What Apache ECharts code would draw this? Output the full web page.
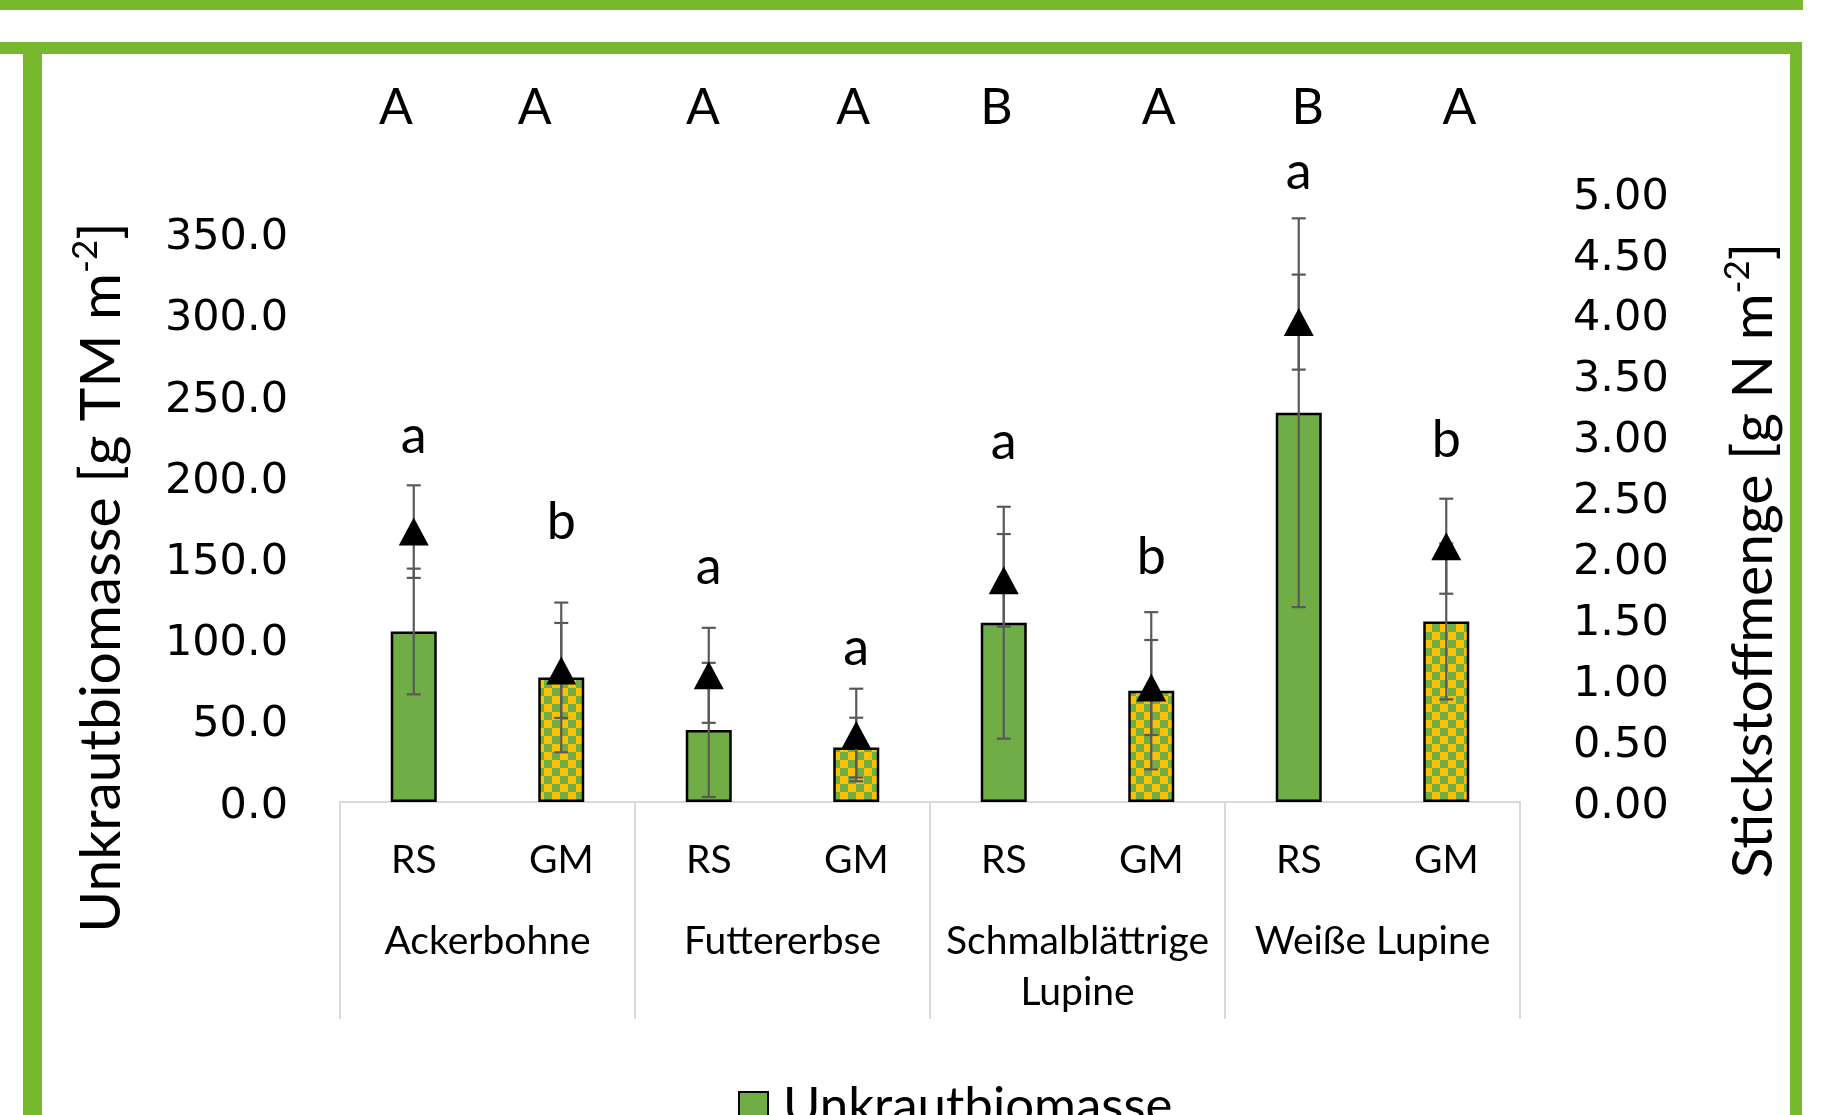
<!DOCTYPE html>
<html><head><meta charset="utf-8">
<script src="https://cdn.jsdelivr.net/npm/echarts@6/dist/echarts.min.js"></script>
<style>html,body{margin:0;padding:0;background:#fff}#c{width:1823px;height:1115px}</style>
</head><body><div id="c"></div>
<script>
// ---- data ----
const subLabels = ['RS','GM','RS','GM','RS','GM','RS','GM'];
const groups = ['Ackerbohne','Futtererbse','Schmalblättrige\nLupine','Weiße Lupine'];
const biomass = [105.0, 76.7, 44.4, 33.5, 110.4, 68.5, 239.7, 111.2];
const biomassErr = [38.7, 46.1, 41.3, 18.4, 71.4, 48.4, 119.7, 48.0];
const nitrogen = [2.22, 1.08, 1.04, 0.55, 1.82, 0.94, 3.94, 2.10];
const nitrogenErr = [0.38, 0.39, 0.39, 0.38, 0.38, 0.39, 0.39, 0.39];
const lowerLetters = ['a','b','a','a','a','b','a','b'];
const lowerLetterAt = [3.00, 2.30, 1.93, 1.26, 2.95, 2.01, 5.17, 2.97];
const upperLetters = ['A','A','A','A','B','A','B','A'];
const upperLetterAt = 5.70;
const upperLetterShift = [-0.12, -0.18, -0.04, -0.02, -0.05, 0.05, 0.06, 0.09];
const leftScale = {min: 0, max: 375, interval: 50};
const rightScale = {min: 0, max: 5, interval: 0.5};

// ---- styles ----
const FONT = 'Lato';
const NUMFONT = 'DejaVu Sans';
const GREEN = '#70ad47', YELLOW = '#ffc000', FRAME = '#77b82e', ERR = '#595959', SEP = '#d9d9d9';
const SQ = 8;
const pc = document.createElement('canvas'); pc.width = 2 * SQ; pc.height = 2 * SQ;
const g = pc.getContext('2d');
g.fillStyle = YELLOW; g.fillRect(0, 0, 2 * SQ, 2 * SQ);
g.fillStyle = GREEN; g.fillRect(SQ, 0, SQ, SQ); g.fillRect(0, SQ, SQ, SQ);
const checker = {image: pc, repeat: 'repeat'};

const chart = echarts.init(document.getElementById('c'), null, {renderer: 'canvas'});

function errSeries(vals, errs, yIdx, z) {
  return {
    type: 'custom', yAxisIndex: yIdx, z: z, silent: true,
    data: vals.map((v, i) => [i, v, errs[i]]),
    renderItem: function (params, api) {
      const i = api.value(0), v = api.value(1), e = api.value(2);
      const x = api.coord([i, v])[0];
      const yt = api.coord([i, v + e])[1];
      const yb = api.coord([i, Math.max(v - e, 0)])[1];
      const cw = 7;
      const st = {stroke: ERR, lineWidth: 2.2};
      return {type: 'group', children: [
        {type: 'line', shape: {x1: x, y1: yt, x2: x, y2: yb}, style: st},
        {type: 'line', shape: {x1: x - cw, y1: yt, x2: x + cw, y2: yt}, style: st},
        {type: 'line', shape: {x1: x - cw, y1: yb, x2: x + cw, y2: yb}, style: st}
      ]};
    }
  };
}
function textSeries(texts, ys, shifts, size) {
  return {
    type: 'custom', yAxisIndex: 1, z: 10, silent: true, clip: false,
    data: texts.map((t, i) => [i, Array.isArray(ys) ? ys[i] : ys, shifts ? shifts[i] : 0]),
    renderItem: function (params, api) {
      const p = api.coord([api.value(0), api.value(1)]);
      const band = api.size([1, 0])[0];
      return {type: 'text', x: p[0] + api.value(2) * band, y: p[1], style: {
        text: texts[params.dataIndex], fontSize: size, fontFamily: FONT, fill: '#000',
        align: 'center', verticalAlign: 'middle'}};
    }
  };
}

const nameRich = (size) => ({
  a: {fontSize: size, fontFamily: FONT, color: '#000', lineHeight: 68},
  s: {fontSize: Math.round(size * 0.62), fontFamily: FONT, color: '#000', lineHeight: 36, verticalAlign: 'top'}
});
const numRich = {n: {fontSize: 43, fontFamily: NUMFONT, color: '#000', lineHeight: 46, padding: [9, 0, 0, 0]}};

const option = {
  backgroundColor: '#fff',
  animation: false,
  graphic: [
    {type: 'rect', shape: {x: 0, y: 0, width: 1803, height: 10}, style: {fill: FRAME}},
    {type: 'rect', shape: {x: 0, y: 42, width: 1802, height: 12, r: [0, 6, 0, 0]}, style: {fill: FRAME}},
    {type: 'rect', shape: {x: 23, y: 42, width: 19, height: 1073}, style: {fill: FRAME}},
    {type: 'rect', shape: {x: 1790, y: 42, width: 12, height: 1073}, style: {fill: FRAME}}
  ],
  grid: {left: 340, top: 193, width: 1180, height: 609, containLabel: false},
  legend: {
    data: ['Unkrautbiomasse'], left: 733, top: 1076, itemWidth: 29, itemHeight: 29, icon: 'rect',
    textStyle: {fontSize: 51, fontFamily: FONT, color: '#000', lineHeight: 50, padding: [0, 0, 0, 10]}
  },
  xAxis: [
    {type: 'category', data: subLabels, position: 'bottom',
      axisLine: {show: true, lineStyle: {color: SEP, width: 2}},
      axisTick: {show: false},
      axisLabel: {interval: 0, fontSize: 39, fontFamily: FONT, color: '#000', margin: 39},
      splitLine: {show: false}},
    {type: 'category', data: groups, position: 'bottom',
      axisLine: {show: false},
      axisTick: {show: true, interval: 0, length: 217, lineStyle: {color: SEP, width: 2}},
      axisLabel: {interval: 0, fontSize: 39, fontFamily: FONT, color: '#000', margin: 114, lineHeight: 51, verticalAlign: 'top'},
      splitLine: {show: false}}
  ],
  yAxis: [
    {type: 'value', position: 'left', min: leftScale.min, max: leftScale.max, interval: leftScale.interval,
      axisLine: {show: false}, axisTick: {show: false}, splitLine: {show: false},
      axisLabel: {fontSize: 43, fontFamily: NUMFONT, color: '#000', margin: 52, showMaxLabel: false,
        rich: numRich, formatter: v => '{n|' + v.toFixed(1) + '}'},
      name: '{a|Unkrautbiomasse [g TM m}{s|-2}{a|]}', nameLocation: 'middle', nameRotate: 90, nameGap: 204,
      nameTextStyle: {padding: [0, 160, 0, 0], rich: nameRich(57)}},
    {type: 'value', position: 'right', min: rightScale.min, max: rightScale.max, interval: rightScale.interval,
      axisLine: {show: false}, axisTick: {show: false}, splitLine: {show: false},
      axisLabel: {fontSize: 43, fontFamily: NUMFONT, color: '#000', margin: 53,
        rich: numRich, formatter: v => '{n|' + v.toFixed(2) + '}'},
      name: '{a|Stickstoffmenge [g N m}{s|-2}{a|]}', nameLocation: 'middle', nameRotate: 90, nameGap: 200,
      nameTextStyle: {padding: [0, 126, 0, 0], rich: nameRich(57)}}
  ],
  series: [
    {name: 'Unkrautbiomasse', type: 'bar', xAxisIndex: 0, yAxisIndex: 0, barWidth: 46, z: 2,
      itemStyle: {color: GREEN, borderColor: '#000', borderWidth: 2.5},
      data: biomass.map((v, i) => i % 2 === 1 ? {value: v, itemStyle: {color: checker}} : v)},
    Object.assign(errSeries(biomass, biomassErr, 0, 3), {name: 'biomassErr'}),
    Object.assign(errSeries(nitrogen, nitrogenErr, 1, 4), {name: 'nErr'}),
    {name: 'Stickstoffmenge', type: 'scatter', yAxisIndex: 1, z: 5, symbol: 'triangle', symbolSize: [30, 28],
      itemStyle: {color: '#000', opacity: 1}, data: nitrogen},
    textSeries(lowerLetters, lowerLetterAt, null, 52),
    textSeries(upperLetters, upperLetterAt, upperLetterShift, 50)
  ]
};
chart.setOption(option);
</script></body></html>
